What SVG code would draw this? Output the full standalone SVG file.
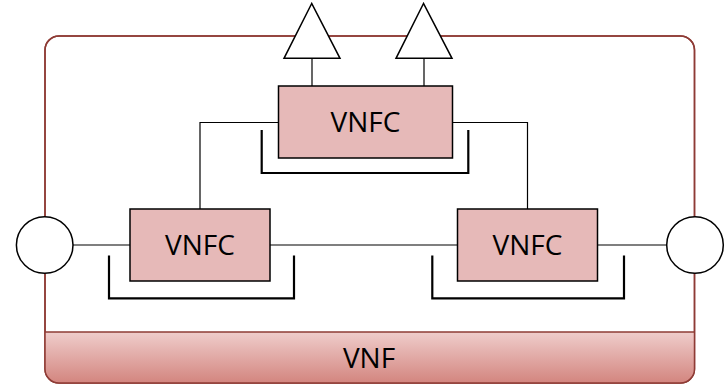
<svg xmlns="http://www.w3.org/2000/svg" width="727" height="386" viewBox="0 0 727 386">
  <defs>
    <linearGradient id="vnfBar" x1="0" y1="0" x2="0" y2="1">
      <stop offset="0" stop-color="#efcdcb"/>
      <stop offset="1" stop-color="#d3857f"/>
    </linearGradient>
    <clipPath id="frameClip">
      <rect x="45" y="36" width="649.5" height="347" rx="14"/>
    </clipPath>
  </defs>
  <style>
    .frame { fill: #ffffff; stroke: #8e3b35; stroke-width: 1.5; }
    .vnfc { fill: #e6b9b8; stroke: #000000; stroke-width: 1.5; }
    .wire { fill: none; stroke: #000000; stroke-width: 1.2; }
    .bracket { fill: none; stroke: #000000; stroke-width: 2.2; }
    .port { fill: #ffffff; stroke: #000000; stroke-width: 1.5; }
    .label { font-family: "Open Sans", "Liberation Sans", sans-serif; font-size: 28px; fill: #000000; text-anchor: middle; }
  </style>

  <!-- VNF container -->
  <g id="vnf">
    <rect class="frame" x="45" y="36" width="649.5" height="347" rx="14"/>
    <rect x="45" y="332" width="649.5" height="51" fill="url(#vnfBar)" clip-path="url(#frameClip)"/>
    <line x1="45" y1="332" x2="694.5" y2="332" stroke="#8e3b35" stroke-width="1.5"/>
    <rect x="45" y="36" width="649.5" height="347" rx="14" fill="none" stroke="#8e3b35" stroke-width="1.5"/>
    <text class="label" x="369" y="368">VNF</text>
  </g>

  <!-- connectors -->
  <g id="connectors">
    <line class="wire" x1="312" y1="58" x2="312" y2="86"/>
    <line class="wire" x1="424" y1="58" x2="424" y2="86"/>
    <polyline class="wire" points="278,122.5 200,122.5 200,209"/>
    <polyline class="wire" points="452,122.5 527.5,122.5 527.5,209"/>
    <line class="wire" x1="73" y1="245" x2="130" y2="245"/>
    <line class="wire" x1="270" y1="245" x2="457.5" y2="245"/>
    <line class="wire" x1="597.5" y1="245" x2="667" y2="245"/>
  </g>

  <!-- external ports -->
  <g id="port-left">
    <circle class="port" cx="44.7" cy="245" r="28.3"/>
  </g>
  <g id="port-right">
    <circle class="port" cx="695" cy="245" r="28.3"/>
  </g>

  <!-- antennas -->
  <g id="antenna-left">
    <polygon class="port" points="311.7,3.5 284,58.3 340,58.3"/>
  </g>
  <g id="antenna-right">
    <polygon class="port" points="423.5,3.5 396,58.3 452,58.3"/>
  </g>

  <!-- top VNFC -->
  <g id="vnfc-top">
    <polyline class="bracket" points="261.7,130 261.7,173 468.3,173 468.3,130"/>
    <rect class="vnfc" x="278.5" y="86" width="174" height="72"/>
    <text class="label" x="365.5" y="132">VNFC</text>
  </g>

  <!-- left VNFC -->
  <g id="vnfc-left">
    <polyline class="bracket" points="109,255.5 109,298.3 294,298.3 294,255.5"/>
    <rect class="vnfc" x="130" y="209" width="140" height="72"/>
    <text class="label" x="200" y="255">VNFC</text>
  </g>

  <!-- right VNFC -->
  <g id="vnfc-right">
    <polyline class="bracket" points="432.3,255.5 432.3,298.3 624,298.3 624,255.5"/>
    <rect class="vnfc" x="457.5" y="209" width="140" height="72"/>
    <text class="label" x="527.5" y="255">VNFC</text>
  </g>
</svg>
